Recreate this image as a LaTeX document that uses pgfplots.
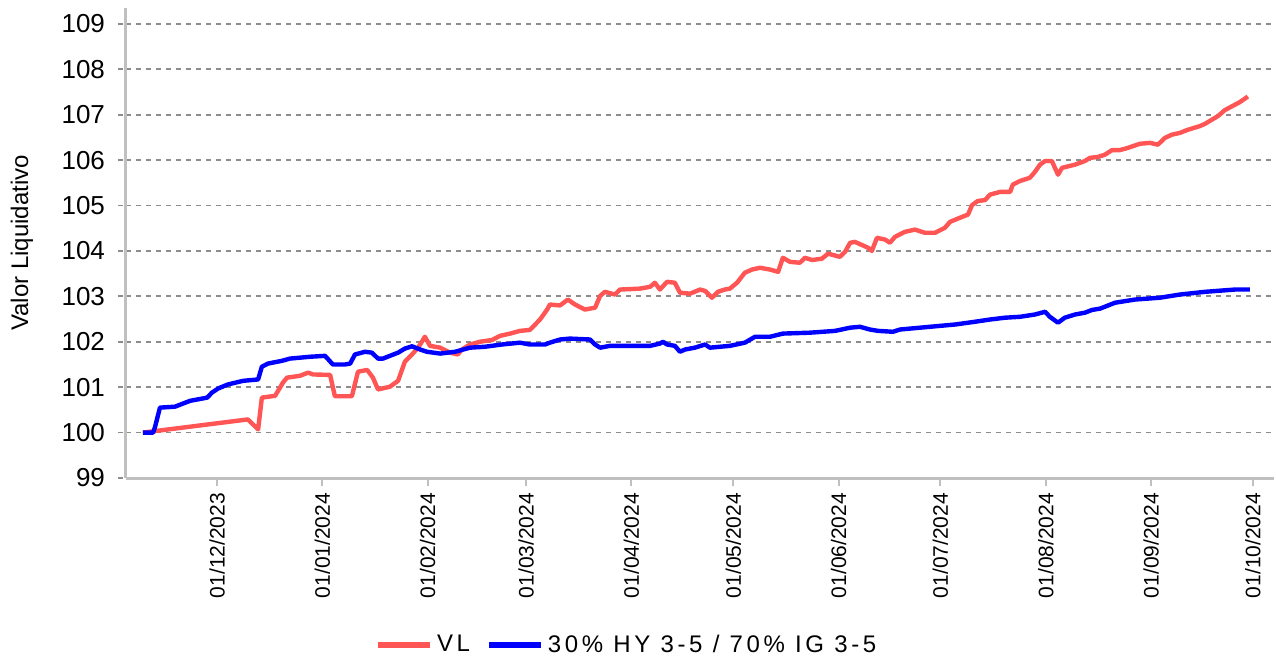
\documentclass[border=0pt]{standalone}
\usepackage{pgfplots}
\pgfplotsset{compat=1.18}
\usepackage{fontspec}
\setmainfont{Liberation Sans}
\definecolor{vlred}{RGB}{255,85,85}
\definecolor{bmblue}{RGB}{0,0,255}
\definecolor{axgray}{RGB}{192,192,192}
\definecolor{gridgray}{RGB}{140,140,140}
\begin{document}
\begin{tikzpicture}
\path[use as bounding box] (0,0) rectangle (638bp,330bp);
\begin{axis}[
  at={(63bp,91bp)}, anchor=south west,
  scale only axis, width=574bp, height=235bp,
  xmin=-26.8, xmax=311.2, ymin=99, ymax=109.35,
  axis x line*=bottom, axis y line*=left,
  axis line style={draw=axgray, line width=1.5bp, -},
  xtick={0,31,62,91,122,152,183,213,244,275,305},
  xticklabels={01/12/2023,01/01/2024,01/02/2024,01/03/2024,01/04/2024,01/05/2024,01/06/2024,01/07/2024,01/08/2024,01/09/2024,01/10/2024},
  ytick={99,100,...,109},
  ymajorgrids,
  major grid style={draw=gridgray, line width=0.9bp, dash pattern=on 2.5bp off 2.5bp},
  tick align=outside, major tick length=4bp,
  xtick style={draw=axgray, line width=1bp},
  ytick style={draw=gridgray, line width=0.9bp, dash pattern=on 2.5bp off 2.5bp},
  /pgf/number format/assume math mode=true,
  xticklabel style={rotate=90, anchor=east, font=\fontsize{10.5bp}{12bp}\selectfont},
  yticklabel style={font=\fontsize{13bp}{15bp}\selectfont, xshift=-3bp},
  every axis y label/.style={at={(axis description cs:-0.0906,0.5)}, rotate=90, anchor=center, font=\fontsize{12bp}{14bp}\selectfont},
  ylabel={Valor Liquidativo},
  legend style={at={(axis description cs:0.437,-0.355)}, anchor=center, draw=none, fill=none,
    font=\fontsize{12bp}{14bp}\selectfont, /tikz/every even column/.append style={column sep=6bp}},
  legend columns=2,
  legend image code/.code={\draw[#1, line width=3bp] (0bp,0bp) -- (26bp,0bp);},
]
\addplot[vlred, line width=2.2bp, line join=round] coordinates {
(-21.8,100.00) (9.1,100.29) (12.1,100.07) (13.2,100.77) (17.1,100.81) (19.4,101.10) (20.6,101.21)
(24.4,101.25) (26.8,101.32) (28.3,101.28) (33.3,101.27) (34.7,100.80) (39.7,100.80) (41.5,101.34)
(44.2,101.38) (45.9,101.21) (47.4,100.95) (50.9,101.01) (53.3,101.14) (55.3,101.56) (57.4,101.72)
(59.2,101.87) (61.2,102.11) (62.7,101.91) (65.7,101.87) (68.6,101.76) (70.9,101.72) (72.1,101.83)
(74.5,101.94) (77.4,102.00) (81.0,102.04) (83.3,102.13) (86.3,102.18) (89.2,102.24) (92.1,102.26)
(95.1,102.49) (97.2,102.71) (98.0,102.82) (101.0,102.80) (103.3,102.93) (105.4,102.82) (108.3,102.71)
(111.3,102.75) (112.8,103.01) (114.2,103.10) (117.2,103.04) (118.6,103.15) (124.5,103.17) (127.5,103.21)
(128.9,103.30) (130.4,103.15) (132.5,103.32) (134.8,103.30) (136.3,103.08) (139.3,103.06) (142.2,103.15)
(143.7,103.12) (145.7,102.97) (147.5,103.10) (149.5,103.15) (151.0,103.17) (153.1,103.30) (155.4,103.52)
(157.5,103.59) (159.9,103.63) (162.8,103.59) (165.2,103.54) (166.6,103.85) (168.7,103.76) (171.6,103.74)
(173.1,103.85) (175.2,103.80) (178.1,103.83) (179.9,103.94) (183.4,103.87) (184.9,103.98) (186.4,104.18)
(187.8,104.20) (189.9,104.13) (191.7,104.07) (192.8,104.00) (194.3,104.29) (196.7,104.25) (198.1,104.18)
(199.6,104.31) (202.5,104.42) (205.5,104.47) (208.4,104.40) (211.4,104.40) (214.3,104.51) (215.8,104.64)
(218.7,104.73) (221.1,104.80) (222.3,105.01) (224.0,105.10) (226.1,105.12) (227.6,105.24) (230.5,105.30)
(233.5,105.30) (234.3,105.46) (236.4,105.54) (239.3,105.61) (240.8,105.74) (242.3,105.90) (243.8,105.98)
(245.8,105.98) (247.6,105.68) (248.8,105.83) (252.6,105.90) (255.5,105.98) (257.0,106.05) (259.4,106.07)
(261.4,106.12) (263.5,106.22) (265.8,106.22) (268.2,106.27) (271.7,106.36) (274.7,106.38) (277.0,106.34)
(279.1,106.49) (281.1,106.56) (283.5,106.60) (285.9,106.67) (289.4,106.75) (290.9,106.80) (292.9,106.89)
(294.7,106.97) (296.7,107.10) (299.7,107.22) (301.2,107.28) (303.5,107.40)
};
\addlegendentry{\addfontfeature{LetterSpace=15}VL}
\addplot[bmblue, line width=2.2bp, line join=round] coordinates {
(-21.8,100.00) (-18.8,100.00) (-18.3,100.11) (-16.8,100.55) (-12.4,100.57) (-10.0,100.64) (-7.9,100.70)
(-2.9,100.77) (-1.5,100.88) (0.3,100.97) (3.2,101.06) (7.7,101.14) (12.1,101.17) (13.2,101.45)
(15.0,101.52) (19.1,101.58) (21.5,101.63) (27.4,101.67) (31.8,101.69) (34.1,101.50) (37.7,101.50)
(39.2,101.52) (40.6,101.72) (43.6,101.78) (45.6,101.76) (47.4,101.63) (48.9,101.63) (50.9,101.69)
(53.3,101.76) (55.3,101.85) (57.4,101.90) (59.8,101.83) (61.8,101.78) (65.7,101.74) (70.1,101.78)
(74.5,101.87) (78.9,101.89) (83.9,101.94) (89.2,101.98) (92.1,101.94) (96.6,101.94) (98.0,101.98)
(101.0,102.05) (103.9,102.07) (109.8,102.05) (111.3,101.94) (112.8,101.87) (115.7,101.91) (127.5,101.91)
(130.4,101.96) (131.3,102.00) (132.5,101.94) (134.8,101.91) (136.3,101.78) (137.8,101.83) (140.7,101.87)
(143.7,101.94) (145.1,101.87) (151.0,101.91) (155.4,101.98) (158.4,102.11) (162.8,102.11) (166.6,102.18)
(174.6,102.20) (182.0,102.24) (186.4,102.31) (189.3,102.33) (192.2,102.27) (194.6,102.24) (199.0,102.22)
(201.1,102.27) (209.9,102.33) (217.3,102.38) (223.1,102.44) (227.6,102.49) (232.0,102.53) (236.4,102.55)
(240.8,102.60) (243.8,102.66) (245.2,102.55) (247.6,102.42) (249.6,102.53) (252.6,102.60) (255.5,102.64)
(257.6,102.70) (260.0,102.73) (264.4,102.86) (270.3,102.93) (277.6,102.97) (283.5,103.04) (290.9,103.10)
(299.7,103.15) (304.1,103.15)
};
\addlegendentry{\addfontfeature{LetterSpace=15}30\% HY 3-5 / 70\% IG 3-5}
\end{axis}
\end{tikzpicture}
\end{document}
